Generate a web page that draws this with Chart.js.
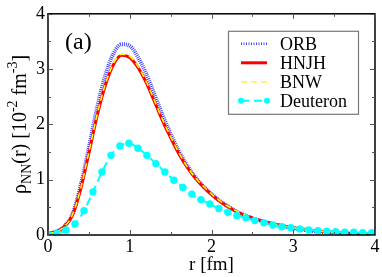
<!DOCTYPE html>
<html>
<head>
<meta charset="utf-8">
<script src="https://cdn.jsdelivr.net/npm/chart.js@4/dist/chart.umd.min.js"></script>
<style>
html,body{margin:0;padding:0;background:#fff;}
#wrap{position:relative;width:382px;height:277px;}
</style>
</head>
<body>
<div id="wrap"><canvas id="c" width="382" height="277"></canvas></div>
<script>
// ---- data ----
const rGrid = [0,0.1,0.2,0.3,0.4,0.5,0.6,0.7,0.8,0.9,1.0,1.1,1.2,1.3,1.4,1.5,1.6,1.7,1.8,1.9,2.0,2.1,2.2,2.3,2.4,2.5,2.6,2.7,2.8,2.9,3.0,3.2,3.4,3.6,3.8,4.0];
const orbValues  = [0.03,0.06,0.16,0.38,0.90,1.58,2.30,2.88,3.28,3.45,3.42,3.22,2.92,2.55,2.17,1.83,1.52,1.26,1.05,0.88,0.74,0.62,0.52,0.43,0.36,0.30,0.26,0.22,0.18,0.15,0.12,0.08,0.05,0.03,0.02,0.01];
const hnjhValues = [0.03,0.06,0.15,0.36,0.83,1.48,2.15,2.70,3.08,3.25,3.21,3.03,2.76,2.42,2.07,1.76,1.47,1.23,1.03,0.87,0.73,0.61,0.51,0.43,0.36,0.31,0.26,0.22,0.19,0.16,0.13,0.09,0.06,0.04,0.02,0.01];
const bnwValues  = [0.03,0.06,0.15,0.37,0.84,1.50,2.17,2.72,3.10,3.27,3.23,3.05,2.78,2.44,2.09,1.78,1.49,1.24,1.04,0.88,0.74,0.62,0.52,0.44,0.37,0.31,0.26,0.22,0.19,0.16,0.13,0.09,0.06,0.04,0.02,0.01];
const deutR = [0,0.11,0.22,0.33,0.44,0.55,0.66,0.77,0.88,0.99,1.10,1.21,1.32,1.43,1.54,1.65,1.76,1.87,1.98,2.09,2.20,2.31,2.42,2.53,2.64,2.75,2.86,2.97,3.08,3.19,3.30,3.41,3.52,3.63,3.74,3.85,3.96];
const deutValues = [0.01,0.03,0.09,0.20,0.44,0.78,1.14,1.44,1.61,1.66,1.57,1.44,1.29,1.14,0.99,0.86,0.74,0.64,0.56,0.48,0.41,0.35,0.31,0.26,0.22,0.18,0.15,0.13,0.11,0.09,0.08,0.07,0.06,0.05,0.05,0.04,0.04];
const seriesNames = ["ORB","HNJH","BNW","Deuteron"];
const xTicks = [0,1,2,3,4];
const yTicks = [0,1,2,3,4];
const xTitle = "r [fm]";
const panelLabel = "(a)";

const SERIF = "'Liberation Serif','DejaVu Serif',serif";
const pts = (xs, ys) => xs.map((x,i)=>({x:x,y:ys[i]}));

const datasets = [
  {label:seriesNames[0], data:pts(rGrid,orbValues), borderColor:'#4646ff', borderWidth:4, borderDash:[1,1], pointRadius:0, cubicInterpolationMode:'monotone', order:4},
  {label:seriesNames[1], data:pts(rGrid,hnjhValues), borderColor:'#ff0000', borderWidth:3, pointRadius:0, cubicInterpolationMode:'monotone', order:3},
  {label:seriesNames[2], data:pts(rGrid,bnwValues), borderColor:'#ffff00', borderWidth:1.5, borderDash:[6,4], pointRadius:0, cubicInterpolationMode:'monotone', order:2},
  {label:seriesNames[3], data:pts(deutR,deutValues), borderColor:'#00ffff', backgroundColor:'#00ffff', borderWidth:2, borderDash:[8,5], pointRadius:3.7, pointBorderWidth:0, pointBackgroundColor:'#00ffff', cubicInterpolationMode:'monotone', order:1}
];

function drawRich(ctx, parts, x, y, rotate){
  ctx.save();
  ctx.translate(x,y);
  if(rotate) ctx.rotate(-Math.PI/2);
  let total=0;
  parts.forEach(p=>{ctx.font=p.size+"px "+SERIF; p.w=ctx.measureText(p.t).width; total+=p.w;});
  let cx=-total/2;
  ctx.fillStyle='#000';
  ctx.textBaseline='alphabetic';
  ctx.textAlign='left';
  parts.forEach(p=>{ctx.font=p.size+"px "+SERIF; ctx.fillText(p.t,cx,p.dy); cx+=p.w;});
  ctx.restore();
}

const framePlugin = {
  id:'frame',
  afterDatasetsDraw(chart){
    const ctx=chart.ctx, a=chart.chartArea, xs=chart.scales.x, ys=chart.scales.y;
    ctx.save();
    ctx.strokeStyle='#000';
    ctx.lineWidth=1.5;
    ctx.strokeRect(a.left,a.top,a.right-a.left,a.bottom-a.top);
    ctx.lineWidth=1;
    ctx.strokeStyle='#555';
    for(let v=0; v<=4.0001; v+=0.5){
      const major = Math.abs(v-Math.round(v))<1e-6;
      const L = major?5:3;
      const px = Math.round(xs.getPixelForValue(v))+0.5;
      ctx.beginPath();
      ctx.moveTo(px,a.bottom); ctx.lineTo(px,a.bottom-L);
      ctx.moveTo(px,a.top); ctx.lineTo(px,a.top+L);
      ctx.stroke();
      const py = Math.round(ys.getPixelForValue(v))+0.5;
      ctx.beginPath();
      ctx.moveTo(a.left,py); ctx.lineTo(a.left+L,py);
      ctx.moveTo(a.right,py); ctx.lineTo(a.right-L,py);
      ctx.stroke();
    }
    // panel label
    ctx.fillStyle='#000';
    ctx.font="24px "+SERIF;
    ctx.textAlign='left'; ctx.textBaseline='alphabetic';
    ctx.fillText(panelLabel, a.left+17, a.top+35);
    // legend
    const lx=a.left+180, ly=a.top+17, lw=130, lh=83;
    ctx.fillStyle='#fff';
    ctx.fillRect(lx,ly,lw,lh);
    ctx.strokeStyle='#777'; ctx.lineWidth=1.2;
    ctx.strokeRect(lx+0.5,ly+0.5,lw,lh);
    const rows=[ly+13, ly+32, ly+51, ly+70];
    chart.data.datasets.forEach((d,i)=>{
      const y=rows[i];
      ctx.save();
      ctx.strokeStyle=d.borderColor;
      ctx.lineWidth=(i===0)?2.5:d.borderWidth;
      ctx.setLineDash(i===0?[1,1.5]:(d.borderDash||[]));
      ctx.beginPath(); ctx.moveTo(lx+13,y); ctx.lineTo(lx+39,y); ctx.stroke();
      if(i===3){
        ctx.setLineDash([]);
        ctx.fillStyle=d.pointBackgroundColor;
        [lx+13,lx+39].forEach(px=>{ctx.beginPath(); ctx.arc(px,y,3,0,Math.PI*2); ctx.fill();});
      }
      ctx.restore();
      ctx.fillStyle='#000';
      ctx.font="18px "+SERIF;
      ctx.textBaseline='middle';
      ctx.fillText(d.label, lx+52, y+1);
    });
    // y-axis title with sub/superscripts
    const parts=[
      {t:'ρ',size:20,dy:0},{t:'NN',size:14,dy:5},{t:'(r) [10',size:20,dy:0},
      {t:'-2',size:14,dy:-9},{t:' fm',size:20,dy:0},{t:'-3',size:14,dy:-9},{t:']',size:20,dy:0}
    ];
    drawRich(ctx, parts, 26, (a.top+a.bottom)/2, true);
    ctx.restore();
  }
};

new Chart(document.getElementById('c'), {
  type:'line',
  data:{datasets:datasets},
  options:{
    responsive:false,
    animation:false,
    layout:{padding:{left:0,right:7,top:7,bottom:0}},
    plugins:{legend:{display:false}, tooltip:{enabled:false}},
    scales:{
      x:{type:'linear', min:xTicks[0], max:xTicks[xTicks.length-1],
        afterBuildTicks:(s)=>{s.ticks=xTicks.map(v=>({value:v}));},
        afterFit:(s)=>{s.height=42;},
        grid:{display:false, drawTicks:false},
        border:{display:false},
        ticks:{color:'#000', font:{family:SERIF, size:18}, padding:1, maxRotation:0},
        title:{display:true, text:xTitle, color:'#000', font:{family:SERIF, size:19}, padding:{top:0,bottom:1}}
      },
      y:{type:'linear', min:yTicks[0], max:yTicks[yTicks.length-1],
        afterBuildTicks:(s)=>{s.ticks=yTicks.map(v=>({value:v}));},
        afterFit:(s)=>{s.width=48;},
        grid:{display:false, drawTicks:false},
        border:{display:false},
        ticks:{color:'#000', font:{family:SERIF, size:18}, padding:3},
        title:{display:false}
      }
    }
  },
  plugins:[framePlugin]
});
</script>
</body>
</html>
